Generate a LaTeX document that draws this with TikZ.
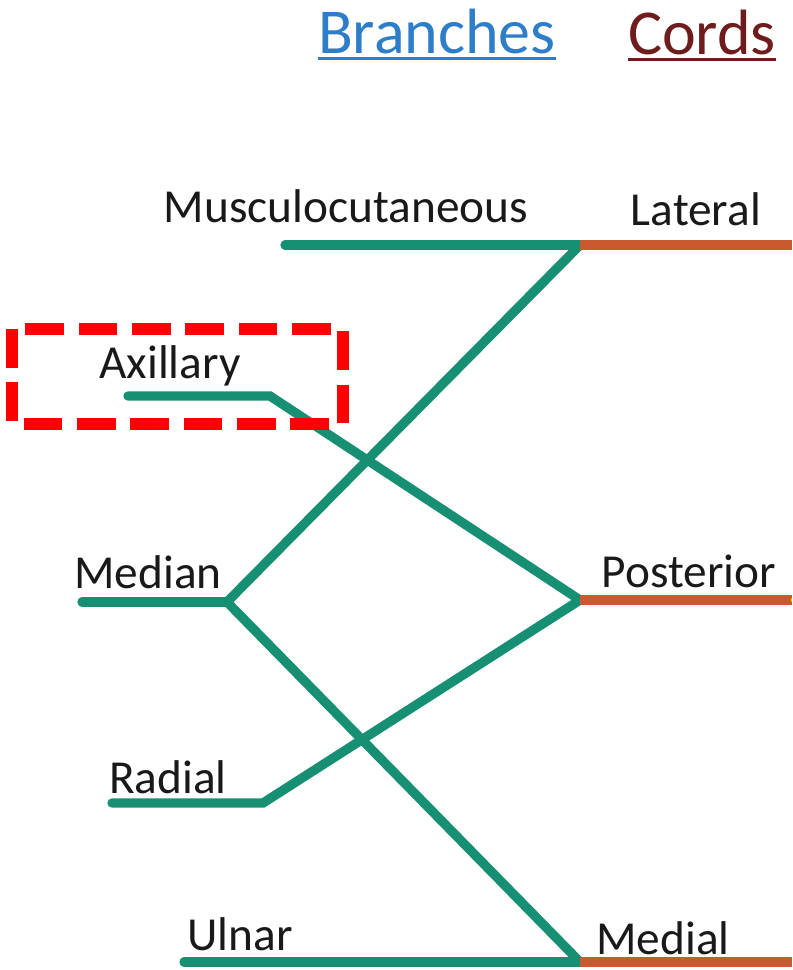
\documentclass[tikz,border=0pt]{standalone}
\usepackage{fontspec}
\setmainfont{Carlito}

\definecolor{nervegreen}{RGB}{22,143,114}
\definecolor{cordorange}{RGB}{201,90,48}
\definecolor{headblue}{RGB}{46,125,200}
\definecolor{headred}{RGB}{110,28,28}

\tikzset{
  nerve/.style={line width=7pt,nervegreen,line cap=round},
  cordline/.style={line width=7pt,cordorange},
  lbl/.style={anchor=base,inner sep=0pt,text=black!90,font=\fontsize{35.5}{40}\selectfont},
  head/.style={anchor=base,inner sep=0pt,font=\fontsize{48}{56}\selectfont}
}

\begin{document}
\begin{tikzpicture}[x=0.75pt,y=-0.75pt]
	 \useasboundingbox (0,0) rectangle (792,970);
	 \coordinate (edge) at (792,0);

	 % headings
	 \node[head,text=headblue](branches) at (437,54){Branches};
	 \node[head,text=headred](cords) at (702,55){Cords};
	 \draw[headblue,line width=2.2pt]([yshift=-3.5pt]branches.base west) -- ([yshift=-3.5pt]branches.base east);
	 \draw[headred,line width=2.2pt]([yshift=-3.5pt]cords.base west) -- ([yshift=-3.5pt]cords.base east);

	 % cords
	 \node[lbl](lateral) at (696,225){Lateral};
	 \node[lbl](posterior) at (689,587){Posterior};
	 \node[lbl](medial) at (663,954){Medial};
	 \coordinate (lat) at (580,245);
	 \coordinate (post) at (580,600);
	 \coordinate (med) at (580,962);

	 % branches
	 \node[lbl](musculo) at (346,222){Musculocutaneous};
	 \node[lbl](axillary) at (170,378){Axillary};
	 \node[lbl](median) at (148,588){Median};
	 \node[lbl](radial) at (168,793){Radial};
	 \node[lbl](ulnar) at (240,950){Ulnar};

	 \coordinate (musculo-s) at (285,245);
	 \coordinate (axillary-s) at (128,396);
	 \coordinate (axillary-k) at (270,396);
	 \coordinate (median-s) at (82,602);
	 \coordinate (median-k) at (227,602);
	 \coordinate (radial-s) at (112,803);
	 \coordinate (radial-k) at (263,803);
	 \coordinate (ulnar-s) at (184,962);

	 \draw[nerve](musculo-s) -- (lat);
	 \draw[nerve](axillary-s) -- (axillary-k) -- (post);
	 \draw[nerve](median-s) -- (median-k);
	 \draw[nerve](lat) -- (median-k) -- (med);
	 \draw[nerve](radial-s) -- (radial-k) -- (post);
	 \draw[nerve](ulnar-s) -- (med);

	 \draw[cordline](lat) -- (lat-|edge);
	 \draw[cordline](post) -- (post-|edge);
	 \draw[cordline](med) -- (med-|edge);
	 \begin{scope}
	 	\clip (0,0) rectangle (792,970);
	 	\fill[yellow!85!orange](796,600) circle (5);
	 \end{scope}

	 % highlight
	 \draw[red,line width=9pt,dash pattern=on 29pt off 11pt](12,329) rectangle (343,424);
\end{tikzpicture}
\end{document}
